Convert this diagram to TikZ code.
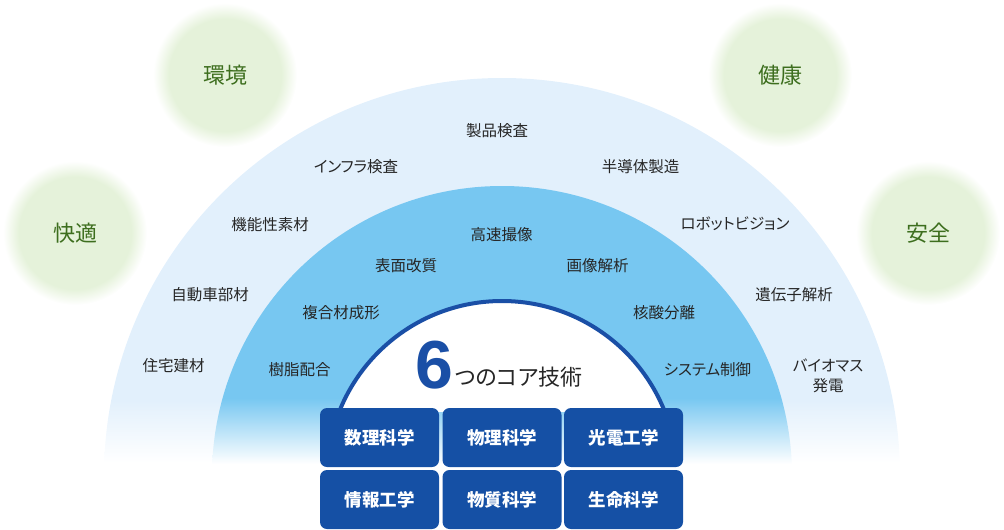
\documentclass[tikz,border=0pt]{standalone}
\usepackage{fontspec}
\setmainfont{Noto Sans CJK JP}[RawFeature=+palt]
\newfontfamily\numfont{Liberation Sans}
\usepackage{tikz}
\usetikzlibrary{positioning}
\usepackage{xcolor}

\definecolor{bandpale}{HTML}{E2F0FC}
\definecolor{bandsky}{HTML}{77C7F1}
\definecolor{coreblue}{HTML}{1A4FA6}
\definecolor{boxblue}{HTML}{1550A5}
\definecolor{leafgreen}{HTML}{3D6E1E}
\definecolor{discgreen}{HTML}{E5F2DA}
\pgfdeclareradialshading{leafdisc}{\pgfpoint{0bp}{0bp}}{color(0bp)=(discgreen); color(19.5bp)=(discgreen); color(25bp)=(white); color(50bp)=(white)}

\tikzset{
  tech/.style={inner sep=0pt, text=black!85, font=\fontsize{15.5}{20}\selectfont, align=center},
  goal/.style={inner sep=0pt, text=leafgreen, font=\fontsize{22}{26}\selectfont},
  corebox/.style={fill=boxblue, rounded corners=7pt, minimum width=119pt, minimum height=59pt,
    text=white, font=\fontsize{17.5}{20}\selectfont\bfseries},
}

\begin{document}
\begin{tikzpicture}[x=1pt, y=-1pt]
    \useasboundingbox (0,0) rectangle (1004,530);

    % 目標の円
    \shade[shading=leafdisc] (225,75) circle (72);
    \shade[shading=leafdisc] (780,75) circle (72);
    \shade[shading=leafdisc] (75,233) circle (72);
    \shade[shading=leafdisc] (928,233) circle (72);
    \node[goal] (kankyo) at (225,75) {環境};
    \node[goal] (kenko) at (780,75) {健康};
    \node[goal] (kaiteki) at (75,233) {快適};
    \node[goal] (anzen) at (928,233) {安全};

    % 外側の帯（下へ白くぼかす）
    \begin{scope}
        \clip (502,476) circle (398);
        \fill[bandpale] (100,70) rectangle (904,400);
        \shade[top color=bandpale, bottom color=white] (100,400) rectangle (904,463);
    \end{scope}

    % 内側の帯
    \begin{scope}
        \clip (502,476) circle (290);
        \fill[bandsky] (200,180) rectangle (804,398);
        \shade[top color=bandsky, bottom color=white] (200,398) rectangle (804,464);
    \end{scope}

    % 中心の半円
    \begin{scope}
        \clip (0,0) rectangle (1004,411);
        \filldraw[fill=white, draw=coreblue, line width=4pt] (502,476) circle (175);
    \end{scope}

    % 外側の応用分野
    \node[tech] (seihin) at (497,131) {製品検査};
    \node[tech] (infra) at (356,166.5) {インフラ検査};
    \node[tech] (handotai) at (640.5,167) {半導体製造};
    \node[tech] (kinosei) at (270,225) {機能性素材};
    \node[tech] (robot) at (735,224) {ロボットビジョン};
    \node[tech] (jidosha) at (210,295) {自動車部材};
    \node[tech] (idenshi) at (794,295) {遺伝子解析};
    \node[tech] (jutaku) at (173.5,366) {住宅建材};
    \node[tech] (biomass) at (828,375.5) {バイオマス\\発電};

    % 内側の要素技術
    \node[tech] (kosoku) at (501.5,234.5) {高速撮像};
    \node[tech] (hyomen) at (406,265.5) {表面改質};
    \node[tech] (gazo) at (597.5,265.5) {画像解析};
    \node[tech] (fukugo) at (341,313) {複合材成形};
    \node[tech] (kakusan) at (664,313) {核酸分離};
    \node[tech] (jushi) at (299.5,370) {樹脂配合};
    \node[tech] (system) at (707.5,370) {システム制御};

    % タイトル
    \node[anchor=base, inner sep=0pt, text=coreblue, font=\fontsize{68}{70}\numfont\bfseries] (six) at (434.5,388) {6};
    \node[anchor=base west, inner sep=0pt, text=black!85, font=\fontsize{22}{26}\selectfont] (core) at (455,385) {つのコア技術};

    % 6つのコア技術
    \node[corebox] (suri) at (379.5,437.5) {数理科学};
    \node[corebox] (butsuri) at (502,437.5) {物理科学};
    \node[corebox] (koden) at (623.5,437.5) {光電工学};
    \node[corebox] (joho) at (379.5,499.5) {情報工学};
    \node[corebox] (busshitsu) at (502,499.5) {物質科学};
    \node[corebox] (seimei) at (623.5,499.5) {生命科学};
\end{tikzpicture}
\end{document}
